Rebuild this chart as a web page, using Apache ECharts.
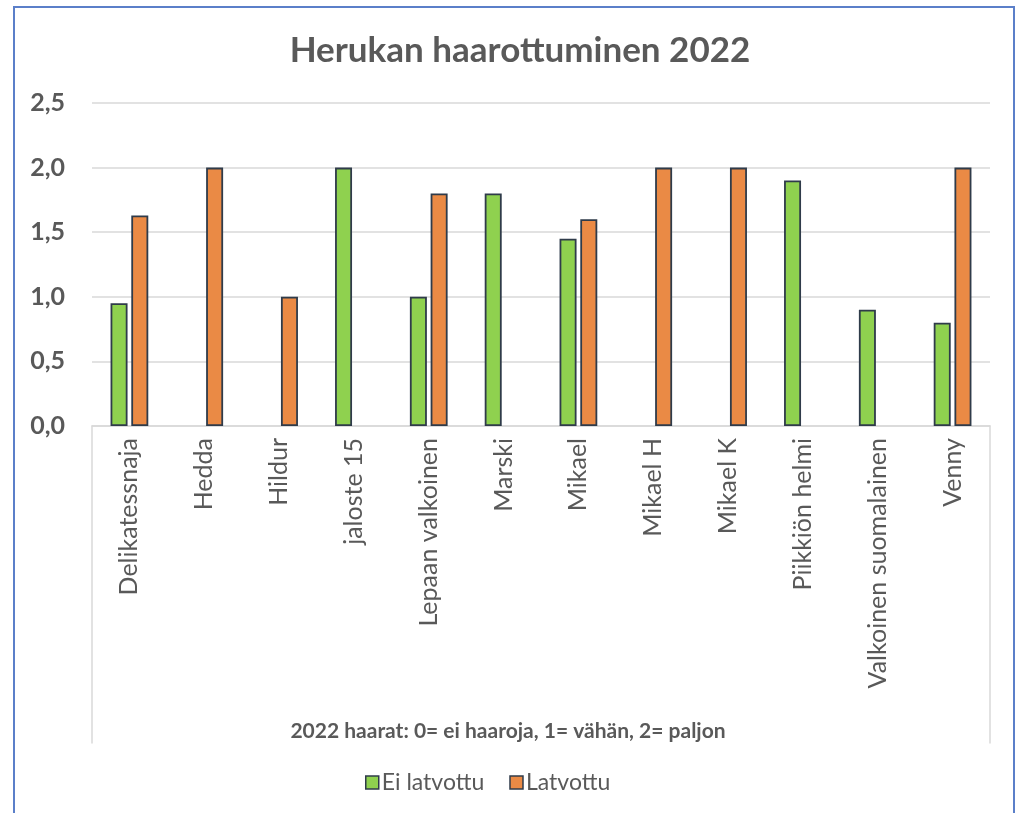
<!DOCTYPE html>
<html>
<head>
<meta charset="utf-8">
<script src="https://cdn.jsdelivr.net/npm/echarts@6/dist/echarts.min.js"></script>
<style>
html,body{margin:0;padding:0;background:#fff;}
#chart{position:absolute;left:0;top:0;width:1019px;height:813px;}
#frame{position:absolute;left:13px;top:6px;width:998px;height:900px;border:2px solid #5b7fc9;pointer-events:none;}
</style>
</head>
<body>
<div id="chart"></div>
<div id="frame"></div>
<script>
const categories = ['Delikatessnaja','Hedda','Hildur','jaloste 15','Lepaan valkoinen','Marski','Mikael','Mikael H','Mikael K','Piikkiön helmi','Valkoinen suomalainen','Venny'];
const eiLatvottu = [0.95, null, null, 2.0, 1.0, 1.8, 1.45, null, null, 1.9, 0.9, 0.8];
const latvottu   = [1.63, 2.0, 1.0, null, 1.8, null, 1.6, 2.0, 2.0, null, null, 2.0];
const seriesNames = ['Ei latvottu','Latvottu'];
const titleText = 'Herukan haarottuminen 2022';
const axisTitle = '2022 haarat: 0= ei haaroja, 1= vähän, 2= paljon';

const FONT = 'Lato';
const TXT = '#595959';
const chart = echarts.init(document.getElementById('chart'));
chart.setOption({
  animation: false,
  textStyle: {fontFamily: FONT},
  title: [
    {text: titleText, left: 515, top: 28, textAlign: 'center',
     textStyle: {fontFamily: FONT, fontSize: 35, fontWeight: 'bold', color: TXT}},
    {text: axisTitle, left: 503, top: 716, textAlign: 'center',
     textStyle: {fontFamily: FONT, fontSize: 21, fontWeight: 'bold', color: TXT}}
  ],
  legend: {
    data: seriesNames, left: 360, top: 766, itemWidth: 13, itemHeight: 13, itemGap: 25,
    icon: 'rect',
    itemStyle: {borderColor: '#2f3b4a', borderWidth: 1.5},
    textStyle: {fontFamily: FONT, fontSize: 23, color: TXT, padding: [0,0,0,-2]}
  },
  grid: [
    {left: 92, right: 29, top: 103, bottom: 387, containLabel: false},
    {left: 92, right: 29, top: 426, height: 317, containLabel: false}
  ],
  xAxis: [
    {type: 'category', data: categories, gridIndex: 0,
     axisLine: {show: true, lineStyle: {color: '#d9d9d9', width: 1.5}},
     axisTick: {show: false},
     axisLabel: {rotate: 90, margin: 12, interval: 0, fontFamily: FONT, fontSize: 25, color: TXT}},
    {type: 'category', data: categories, gridIndex: 1, show: false}
  ],
  yAxis: [
    {type: 'value', min: 0, max: 2.5, interval: 0.5, gridIndex: 0,
     axisLine: {show: false}, axisTick: {show: false},
     splitLine: {lineStyle: {color: '#d9d9d9', width: 1.5}},
     axisLabel: {margin: 27, fontFamily: FONT, fontSize: 25, fontWeight: 'bold', color: TXT,
       formatter: v => v.toFixed(1).replace('.', ',')}},
    {type: 'value', gridIndex: 1, position: 'left',
     axisLine: {show: true, lineStyle: {color: '#d9d9d9', width: 1.5}},
     axisTick: {show: false}, axisLabel: {show: false}, splitLine: {show: false}},
    {type: 'value', gridIndex: 1, position: 'right',
     axisLine: {show: true, lineStyle: {color: '#d9d9d9', width: 1.5}},
     axisTick: {show: false}, axisLabel: {show: false}, splitLine: {show: false}}
  ],
  series: [
    {name: seriesNames[0], type: 'bar', data: eiLatvottu, xAxisIndex: 0, yAxisIndex: 0,
     barWidth: 17, barGap: '22%',
     itemStyle: {color: '#8fd14f', borderColor: '#2f3b4a', borderWidth: 1.8}},
    {name: seriesNames[1], type: 'bar', data: latvottu, xAxisIndex: 0, yAxisIndex: 0,
     barWidth: 17, barGap: '22%',
     itemStyle: {color: '#ea8a45', borderColor: '#2f3b4a', borderWidth: 1.8}}
  ]
});
</script>
</body>
</html>
